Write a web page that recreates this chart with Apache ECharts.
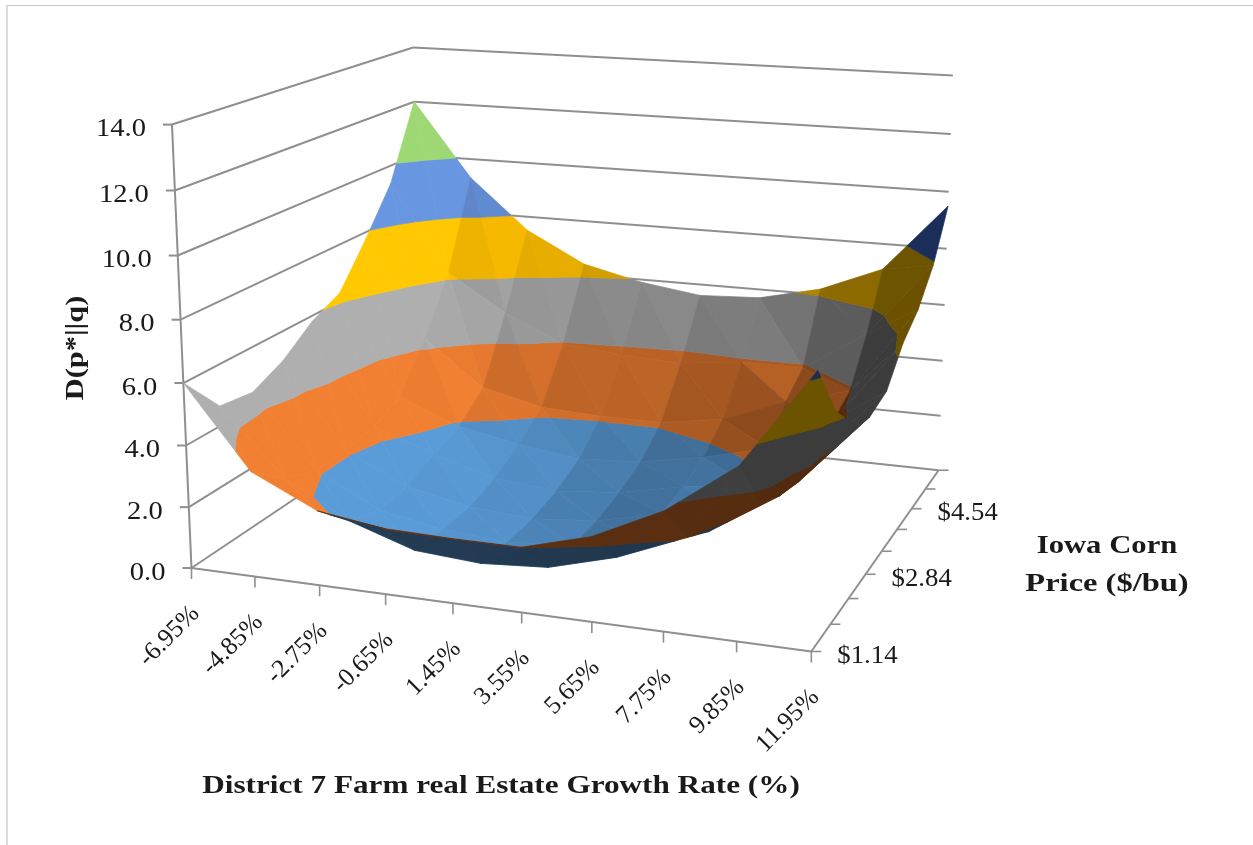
<!DOCTYPE html>
<html><head><meta charset="utf-8">
<style>html,body{margin:0;padding:0;background:#fff}#c{width:1253px;height:845px}</style>
<script src="https://cdn.jsdelivr.net/npm/echarts@6/dist/echarts.min.js"></script>
</head><body><div id="c"></div>
<script>
const growthLabels=['-6.95%','-4.85%','-2.75%','-0.65%','1.45%','3.55%','5.65%','7.75%','9.85%','11.95%'];
const priceLabels=['$1.14','','','$2.84','','','$4.54','',''];
const zLabels=['0.0','2.0','4.0','6.0','8.0','10.0','12.0','14.0'];
const zMax=14;
// D(p*||q): one array per growth rate, from the lowest corn price to the highest
const zAtM695=[6.0,4.65,4.5,5.0,5.8,6.3,7.75,9.35,12.0];
const zAtM485=[3.4,2.5,2.1,2.1,2.3,2.75,4.3,6.2,9.3];
const zAtM275=[2.4,1.35,1.0,1.1,1.55,1.9,2.7,4.9,7.5];
const zAtM065=[2.1,0.65,0.6,0.65,0.95,1.5,2.2,3.95,6.4];
const zAt145=[2.05,0.5,0.45,0.5,0.75,1.2,2.1,3.75,5.9];
const zAt355=[2.05,0.65,0.6,0.7,0.95,1.35,2.1,3.65,5.6];
const zAt565=[2.65,1.25,1.05,1.2,1.4,1.75,2.45,3.9,5.7];
const zAt775=[3.7,2.15,1.6,1.55,1.7,2.3,3.3,3.9,6.2];
const zAt985=[5.3,3.6,3.0,2.75,3.0,3.5,3.9,5.3,7.1];
const zAt1195=[8.3,6.5,5.5,5.1,5.3,6.3,6.9,7.9,9.5];
const surface=[zAtM695,zAtM485,zAtM275,zAtM065,zAt145,zAt355,zAt565,zAt775,zAt985,zAt1195];
const bandFront=['#5796d0','#e97b30','#a8a8a8','#ffc000','#6590d8','#98d070','#98d070'];
const bandBack=['#1f3449','#552c10','#3e3e3e','#6f5500','#1b2f5b','#3a5a20','#3a5a20'];
const bandStep=2;
const lineColor='#8f8f8f';
const textColor='#1a1a1a';
const serif='"Liberation Serif","DejaVu Serif",serif';

// camera: least-squares fit of a projective map from the axis box (u,v,t in 0..1) to the scene
const anchors=[[0,0,0,192,568],[1,0,0,810,652],[5/9,0,0,521,613],[1,1,0,940,470],[1,3/8,0,867,573],[1,6/8,0,913,508],
 [0,0,1,173,125],[0,0,6/7,175,190],[0,0,5/7,177.5,255],[0,0,4/7,180,320],[0,0,3/7,183,383],[0,0,2/7,186,446],[0,0,1/7,189,507],
 [0,1,1,413,47],[0,1,6/7,414,102],
 [1,1,1,953,75],[1,1,6/7,952,134],[1,1,5/7,948,192],[1,1,4/7,947,249],[1,1,3/7,943,306],[1,1,2/7,942,361],[1,1,1/7,939,416]];
function fitCamera(){
  const rows=[],rhs=[];
  anchors.forEach(([u,v,t,sx,sy])=>{
    const X=sx/1000,Y=sy/1000;
    rows.push([u,v,t,1,0,0,0,0,-X*u,-X*v,-X*t]);rhs.push(X);
    rows.push([0,0,0,0,u,v,t,1,-Y*u,-Y*v,-Y*t]);rhs.push(Y);
  });
  const n=11,A=[];
  for(let i=0;i<n;i++){A[i]=[];for(let j=0;j<=n;j++){let s=0;
    rows.forEach((r,k)=>{s+=r[i]*(j<n?r[j]:rhs[k]);});A[i][j]=s;}}
  for(let i=0;i<n;i++){
    let p=i;for(let k=i+1;k<n;k++)if(Math.abs(A[k][i])>Math.abs(A[p][i]))p=k;
    [A[i],A[p]]=[A[p],A[i]];
    for(let k=0;k<n;k++){if(k===i)continue;const f=A[k][i]/A[i][i];for(let j=i;j<=n;j++)A[k][j]-=f*A[i][j];}
  }
  return A.map((r,i)=>r[n]/r[i]);
}
const C=fitCamera();
const nx=surface.length-1,ny=surface[0].length-1;
function project(i,j,z){
  const u=i/nx,v=j/ny,t=z/zMax;
  const w=C[8]*u+C[9]*v+C[10]*t+1;
  return [1000*(C[0]*u+C[1]*v+C[2]*t+C[3])/w,1000*(C[4]*u+C[5]*v+C[6]*t+C[7])/w,w];
}
function shade(hex,f){
  const n=parseInt(hex.slice(1),16);
  const c=[n>>16,(n>>8)&255,n&255].map(x=>Math.min(255,Math.round(x*f)));
  return 'rgb('+c.join(',')+')';
}
// triangles of the surface, far ones first
const tris=[];
for(let i=0;i<nx;i++)for(let j=0;j<ny;j++){
  tris.push([i,j,0],[i,j,1]);
}
function triVerts(i,j,k){
  const pts=k===0?[[i,j],[i+1,j],[i,j+1]]:[[i+1,j+1],[i,j+1],[i+1,j]];
  return pts.map(p=>[p[0],p[1],surface[p[0]][p[1]]]);
}
function depth(d){const vs=triVerts(d[0],d[1],d[2]);
  return vs.reduce((s,p)=>s+project(p[0],p[1],p[2])[2],0)/3;}
tris.sort((a,b)=>depth(b)-depth(a));
function clip(poly,lo,hi){
  const cut=(pts,keep,level)=>{const out=[];
    pts.forEach((p,n)=>{const q=pts[(n+1)%pts.length];const ip=keep(p[2]),iq=keep(q[2]);
      if(ip)out.push(p);
      if(ip!==iq){const s=(level-p[2])/(q[2]-p[2]);out.push([p[0]+s*(q[0]-p[0]),p[1]+s*(q[1]-p[1]),level]);}
    });return out;};
  let r=cut(poly,z=>z>=lo,lo);
  if(r.length)r=cut(r,z=>z<=hi,hi);
  return r;
}
const Zs=0.48;
function normalOf(vs){
  const P=vs.map(p=>[p[0],p[1],p[2]*Zs]);
  const e1=[P[1][0]-P[0][0],P[1][1]-P[0][1],P[1][2]-P[0][2]],e2=[P[2][0]-P[0][0],P[2][1]-P[0][1],P[2][2]-P[0][2]];
  let n=[e1[1]*e2[2]-e1[2]*e2[1],e1[2]*e2[0]-e1[0]*e2[2],e1[0]*e2[1]-e1[1]*e2[0]];
  const L=Math.hypot(n[0],n[1],n[2]);n=n.map(x=>x/L);
  return n[2]<0?n.map(x=>-x):n;
}
function renderTri(params,api){
  const d=[api.value(0),api.value(1),api.value(2)];
  const vs=triVerts(d[0],d[1],d[2]);
  const s=vs.map(p=>project(p[0],p[1],p[2]));
  const area=(s[1][0]-s[0][0])*(s[2][1]-s[0][1])-(s[2][0]-s[0][0])*(s[1][1]-s[0][1]);
  const n=normalOf(vs);
  const a=normalOf(triVerts(d[0],d[1],0)),b=normalOf(triVerts(d[0],d[1],1));
  const m=[0,1].map(k=>0.35*n[k]+0.325*(a[k]+b[k]));
  const dark=area>=0||n[0]<-0.6;
  const f=dark?1+0.2*n[0]:Math.max(0.55,Math.min(1.04,0.95+(m[0]>0?0.45:0.8)*m[0]+0.25*m[1]));
  const children=[];
  bandFront.forEach((col,k)=>{
    const pts=clip(vs,k*bandStep,(k+1)*bandStep);
    if(pts.length<3)return;
    const fill=shade(dark?bandBack[k]:col,dark?Math.max(0.9,f+0.12):f);
    children.push({type:'polygon',silent:true,
      shape:{points:pts.map(p=>{const q=project(p[0],p[1],p[2]);return api.coord([q[0],q[1]]);})},
      style:{fill:fill,stroke:fill,lineWidth:0.7}});
  });
  return {type:'group',children:children};
}
function line(api,a,b,w){
  const p=api.coord(a),q=api.coord(b);
  return {type:'line',silent:true,shape:{x1:p[0],y1:p[1],x2:q[0],y2:q[1]},style:{stroke:lineColor,lineWidth:w||2}};
}
function label(api,at,text,opt){
  const p=api.coord(at);
  return Object.assign({type:'text',silent:true,x:p[0],y:p[1],style:Object.assign({text:text,fill:textColor,
    font:'25.5px '+serif,align:'center',verticalAlign:'middle'},opt.style||{})},opt.el||{});
}
function renderFrame(params,api){
  const ch=[];
  const xy=(a,b,z)=>project(a,b,z).slice(0,2);
  zLabels.forEach((t,k)=>{
    const z=k*bandStep;
    ch.push(line(api,xy(0,0,z),xy(0,ny,z)));
    ch.push(line(api,xy(0,ny,z),xy(nx,ny,z)));
    const p=xy(0,0,z);
    ch.push(line(api,[p[0]-9,p[1]],p));
    ch.push(label(api,[p[0]-26,p[1]+5],t,{style:{align:'right'},el:{scaleX:1.12}}));
  });
  ch.push(line(api,xy(0,0,0),xy(0,0,zMax)));
  ch.push(line(api,xy(0,0,0),xy(nx,0,0)));
  ch.push(line(api,xy(nx,0,0),xy(nx,ny,0)));
  growthLabels.forEach((t,i)=>{
    const p=xy(i,0,0);
    ch.push(line(api,p,[p[0],p[1]+11],1.6));
    ch.push(label(api,[p[0]+4,p[1]+42],t,{style:{align:'right'},el:{rotation:Math.PI/4}}));
  });
  priceLabels.forEach((t,j)=>{
    const p=xy(nx,j,0);
    ch.push(line(api,p,[p[0]+10,p[1]],1.6));
    if(t)ch.push(label(api,[p[0]+26,p[1]+5],t,{style:{align:'left'},el:{scaleX:1.05}}));
  });
  const bold={font:'bold 26px '+serif};
  ch.push(label(api,[501,786],'District 7 Farm real Estate Growth Rate (%)',{style:bold,el:{scaleX:1.2}}));
  ch.push(label(api,[1107,546],'Iowa Corn',{style:bold,el:{scaleX:1.18}}));
  ch.push(label(api,[1107,584],'Price ($/bu)',{style:bold,el:{scaleX:1.25}}));
  ch.push(label(api,[76,348],'D(p*||q)',{style:bold,el:{rotation:Math.PI/2,scaleX:1.17}}));
  return {type:'group',children:ch};
}
const chart=echarts.init(document.getElementById('c'),null,{renderer:'canvas'});
chart.setOption({
  animation:false,backgroundColor:'#fff',
  grid:{left:0,right:0,top:0,bottom:0},
  xAxis:{type:'value',min:0,max:1253,show:false},
  yAxis:{type:'value',min:0,max:845,inverse:true,show:false},
  graphic:[{type:'polyline',silent:true,shape:{points:[[7,845],[7,5.5],[1253,5.5]]},style:{stroke:'#c6c6c6',lineWidth:1.2,fill:null}}],
  series:[
   {type:'custom',name:'frame',coordinateSystem:'cartesian2d',clip:false,z:1,data:[[0,0]],renderItem:renderFrame},
   {type:'custom',name:'surface',coordinateSystem:'cartesian2d',clip:false,z:2,data:tris,encode:{x:0,y:1},renderItem:renderTri}
  ]
});
</script></body></html>
